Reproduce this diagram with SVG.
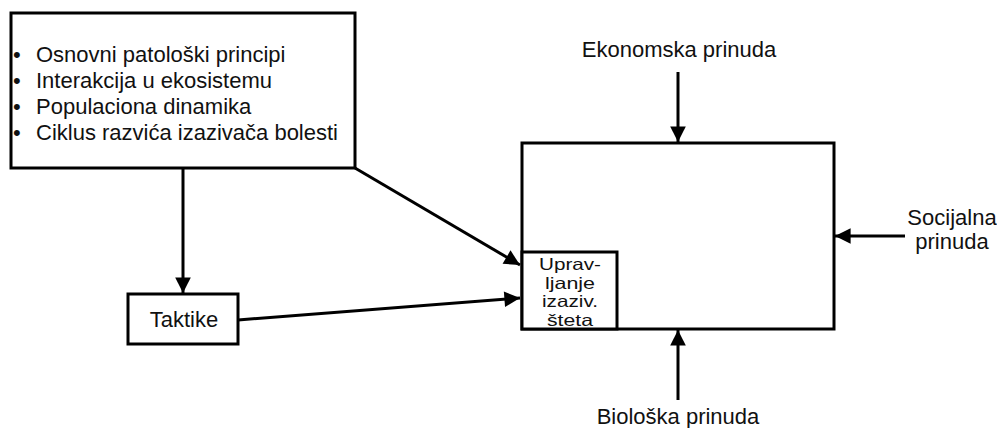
<svg xmlns="http://www.w3.org/2000/svg" width="997" height="428" viewBox="0 0 997 428">
<style>
.box{fill:#fff;stroke:#000;stroke-width:3}
.t{font-family:"Liberation Sans",Arial,sans-serif;font-size:22px;fill:#111}
.m{text-anchor:middle}
.s{font-family:"Liberation Sans",Arial,sans-serif;font-size:16.5px;fill:#111;text-anchor:middle}
.c{stroke:#000;stroke-width:3;fill:none;marker-end:url(#ah)}
</style>
<defs>
<marker id="ah" viewBox="0 0 10 10" refX="10" refY="5" markerWidth="5.5" markerHeight="5.2" markerUnits="strokeWidth" orient="auto">
<path d="M0,0 L10,5 L0,10 Z" fill="#000"/>
</marker>
</defs>
<rect width="997" height="428" fill="#fff"/>
<g id="principi">
<rect class="box" x="11" y="13" width="344" height="155"/>
<text class="t" x="13" y="62">•</text>
<text class="t" x="36" y="62">Osnovni patološki principi</text>
<text class="t" x="13" y="88">•</text>
<text class="t" x="36" y="88">Interakcija u ekosistemu</text>
<text class="t" x="13" y="114">•</text>
<text class="t" x="36" y="114">Populaciona dinamika</text>
<text class="t" x="13" y="140">•</text>
<text class="t" x="36" y="140">Ciklus razvića izazivača bolesti</text>
</g>
<g id="taktike">
<rect class="box" x="128" y="294" width="110" height="50"/>
<text class="t m" x="184" y="327">Taktike</text>
</g>
<g id="sistem">
<rect class="box" x="522" y="143" width="312" height="186"/>
</g>
<g id="upravljanje">
<rect class="box" x="522" y="252" width="95" height="77"/>
<text class="s" x="570" y="270" textLength="62" lengthAdjust="spacingAndGlyphs">Uprav-</text>
<text class="s" x="570" y="288.5" textLength="50" lengthAdjust="spacingAndGlyphs">ljanje</text>
<text class="s" x="570" y="307" textLength="56" lengthAdjust="spacingAndGlyphs">izaziv.</text>
<text class="s" x="570" y="325.5" textLength="46" lengthAdjust="spacingAndGlyphs">šteta</text>
</g>
<g id="ekonomska">
<text class="t m" x="679" y="57">Ekonomska prinuda</text>
</g>
<g id="socijalna">
<text class="t m" x="952" y="225">Socijalna</text>
<text class="t m" x="952" y="249">prinuda</text>
</g>
<g id="bioloska">
<text class="t m" x="678" y="424">Biološka prinuda</text>
</g>
<g id="connectors">
<line class="c" x1="183" y1="168" x2="183" y2="293"/>
<line class="c" x1="355" y1="168" x2="520" y2="265"/>
<line class="c" x1="238" y1="320" x2="520" y2="298"/>
<line class="c" x1="678" y1="72" x2="678" y2="142"/>
<line class="c" x1="678" y1="400" x2="678" y2="330"/>
<line class="c" x1="905" y1="236" x2="835" y2="236"/>
</g>
</svg>
